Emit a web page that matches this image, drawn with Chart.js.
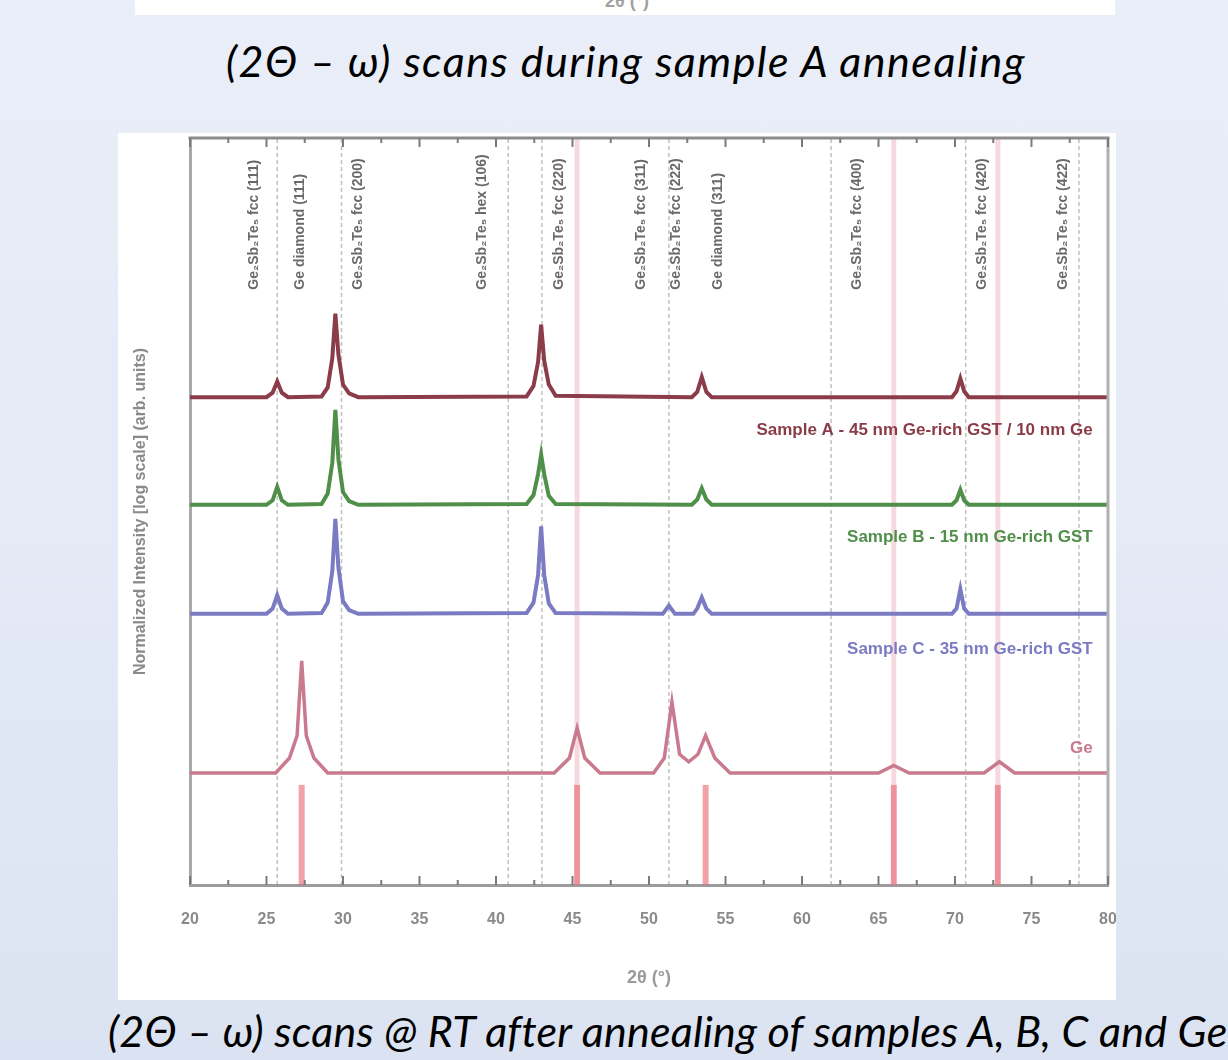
<!DOCTYPE html>
<html>
<head>
<meta charset="utf-8">
<script src="https://cdn.jsdelivr.net/npm/chart.js@4.4.1/dist/chart.umd.min.js"></script>
<style>
  html, body { margin:0; padding:0; }
  body { width:1228px; height:1060px; overflow:hidden; position:relative;
         background: linear-gradient(180deg, #e9eef8 0%, #e4eaf6 50%, #dbe3f2 100%); }
  .topbox { position:absolute; left:135px; top:0; width:980px; height:15px; background:#fff; overflow:hidden; }
  .topbox span { position:absolute; left:470px; top:-9px; font:bold 18px "Liberation Sans", Arial, sans-serif; color:#a0a0a0; }
  .cap { position:absolute; font-family: Lato, "Open Sans", sans-serif; font-style:italic; color:#000; white-space:nowrap; line-height:1; font-size:43px; }
  #cap1 { left:12px; width:1228px; text-align:center; top:39px; letter-spacing:1.5px; }
  #cap2 { left:108px; top:1009px; letter-spacing:0.25px; }
  #wrap { position:absolute; left:118px; top:133px; width:998px; height:867px; background:#fff; }
</style>
</head>
<body>
<div class="topbox"><span>2θ (°)</span></div>
<div class="cap" id="cap1">(2Θ – ω) scans during sample A annealing</div>
<div id="wrap"><canvas id="c"></canvas></div>
<div class="cap" id="cap2">(2Θ – ω) scans @ RT after annealing of samples A, B, C and Ge</div>
<script>
// ---- axis ----
const xMin = 20, xMax = 80, xStep = 5;
const yMin = 0, yMax = 100;

// ---- traces (2θ in degrees, intensity offset in arb. units) ----
const sampleA_x = [20, 25.0, 25.4, 25.7, 26.0, 26.4, 28.6, 29.0, 29.3, 29.5, 29.7, 30.0, 30.4, 31.0, 42.0, 42.45, 42.75, 42.95, 43.15, 43.45, 43.9, 52.8, 53.15, 53.45, 53.75, 54.1, 69.8, 70.1, 70.35, 70.6, 70.9, 80];
const sampleA_y = [65.3, 65.3, 65.9, 67.4, 65.9, 65.3, 65.4, 66.6, 70.5, 76.5, 71.0, 67.0, 65.8, 65.3, 65.4, 66.8, 70.0, 75.0, 70.2, 67.0, 65.5, 65.3, 66.0, 68.0, 66.0, 65.3, 65.3, 66.1, 67.8, 66.1, 65.3, 65.3];

const sampleB_x = [20, 25.0, 25.4, 25.7, 26.0, 26.4, 28.6, 29.0, 29.3, 29.5, 29.7, 30.0, 30.4, 31.0, 42.0, 42.45, 42.75, 42.95, 43.15, 43.45, 43.9, 52.8, 53.15, 53.45, 53.75, 54.1, 69.8, 70.1, 70.35, 70.6, 70.9, 80];
const sampleB_y = [50.9, 50.9, 51.5, 53.3, 51.5, 50.9, 51.0, 52.4, 56.5, 63.6, 57.0, 52.6, 51.4, 50.9, 51.0, 52.2, 55.0, 57.6, 55.0, 52.1, 51.0, 50.9, 51.6, 53.1, 51.6, 50.9, 50.9, 51.5, 52.9, 51.5, 50.9, 50.9];

const sampleC_x = [20, 25.0, 25.4, 25.7, 26.0, 26.4, 28.6, 29.0, 29.3, 29.5, 29.7, 30.0, 30.4, 31.0, 42.0, 42.45, 42.75, 42.95, 43.15, 43.45, 43.9, 50.9, 51.3, 51.7, 52.9, 53.15, 53.45, 53.75, 54.1, 69.8, 70.1, 70.35, 70.6, 70.9, 80];
const sampleC_y = [36.3, 36.3, 37.0, 38.8, 37.0, 36.3, 36.4, 37.8, 42.0, 49.0, 42.5, 38.0, 36.8, 36.3, 36.4, 37.8, 41.5, 48.0, 41.5, 37.7, 36.4, 36.3, 37.4, 36.3, 36.3, 37.0, 38.5, 37.0, 36.3, 36.3, 37.0, 39.6, 37.0, 36.3, 36.3];

const ge_x = [20, 25.6, 26.5, 27.0, 27.3, 27.6, 28.1, 29.0, 43.8, 44.8, 45.3, 45.8, 46.8, 50.3, 51.0, 51.5, 52.0, 52.6, 53.2, 53.7, 54.3, 55.3, 65.0, 66.0, 67.0, 71.9, 72.9, 73.9, 80];
const ge_y = [15.0, 15.0, 17.0, 20.0, 30.0, 20.0, 17.0, 15.0, 15.0, 17.0, 21.0, 17.0, 15.0, 15.0, 17.0, 24.5, 17.5, 16.5, 17.5, 20.0, 17.0, 15.0, 15.0, 16.0, 15.0, 15.0, 16.5, 15.0, 15.0];

// ---- reference positions ----
const geRefPeaks = [27.3, 45.3, 53.7, 66.0, 72.8];
const geStickTop = [13.4, 13.4, 13.4, 13.4, 13.4];
const geFullLines = [45.3, 66.0, 72.8];
const gstLines = [25.7, 29.9, 40.8, 43.0, 51.3, 61.9, 70.7, 78.1];
const refLabelPos = [24.2, 27.2, 31.0, 39.1, 44.1, 49.5, 51.8, 54.5, 63.6, 71.8, 77.1];
const refLabelText = ["Ge₂Sb₂Te₅ fcc (111)", "Ge diamond (111)", "Ge₂Sb₂Te₅ fcc (200)", "Ge₂Sb₂Te₅ hex (106)", "Ge₂Sb₂Te₅ fcc (220)", "Ge₂Sb₂Te₅ fcc (311)", "Ge₂Sb₂Te₅ fcc (222)", "Ge diamond (311)", "Ge₂Sb₂Te₅ fcc (400)", "Ge₂Sb₂Te₅ fcc (420)", "Ge₂Sb₂Te₅ fcc (422)"];
const refLabelBase = 79.7;

// ---- series names ----
const seriesNames = ["Sample A - 45 nm Ge-rich GST / 10 nm Ge", "Sample B - 15 nm Ge-rich GST", "Sample C - 35 nm Ge-rich GST", "Ge"];
const seriesLabelX = [79.0, 79.0, 79.0, 79.0];
const seriesLabelY = [60.9, 46.5, 31.6, 18.3];
const seriesColors = ["#8a3c48", "#4f8f4a", "#7b7bc4", "#c97a8e"];

function pts(xs, ys) { return xs.map((x, i) => ({x: x, y: ys[i]})); }

const datasets = [];
geFullLines.forEach(p => datasets.push({data: pts([p, p], [yMin, yMax]), borderColor: 'rgba(236,170,182,0.45)', borderWidth: 5, order: 5}));
gstLines.forEach(p => datasets.push({data: pts([p, p], [yMin, yMax]), borderColor: 'rgba(130,130,130,0.5)', borderWidth: 1.5, borderDash: [4, 3], order: 4}));
geRefPeaks.forEach((p, i) => datasets.push({data: pts([p, p], [yMin, geStickTop[i]]), borderColor: 'rgba(232,100,112,0.6)', borderWidth: 6, order: 3}));
[[ge_x, ge_y], [sampleC_x, sampleC_y], [sampleB_x, sampleB_y], [sampleA_x, sampleA_y]].forEach((d, i) => {
  const col = seriesColors[3 - i];
  datasets.push({data: pts(d[0], d[1]), borderColor: col, borderWidth: i === 0 ? 3.5 : 4, order: 1});
});
datasets.forEach(d => { d.showLine = true; d.pointRadius = 0; d.fill = false; d.tension = 0; });

const decor = {
  id: 'decor',
  afterDatasetsDraw(chart) {
    const {ctx, chartArea: a, scales: {x, y}} = chart;
    ctx.save();
    ctx.lineWidth = 3;
    ctx.strokeStyle = '#8c8c8c';
    ctx.beginPath(); ctx.moveTo(a.left - 1.5, a.top); ctx.lineTo(a.right + 1.5, a.top); ctx.stroke();
    ctx.strokeStyle = '#b0b0b0';
    ctx.beginPath(); ctx.moveTo(a.right, a.top); ctx.lineTo(a.right, a.bottom); ctx.stroke();
    ctx.strokeStyle = '#7a7a7a'; ctx.lineWidth = 2;
    for (let v = xMin; v <= xMax + 1e-9; v += xStep / 2) {
      const px = x.getPixelForValue(v);
      const len = (Math.abs(v / xStep - Math.round(v / xStep)) < 1e-6) ? 9 : 5;
      ctx.beginPath(); ctx.moveTo(px, a.bottom); ctx.lineTo(px, a.bottom - len); ctx.stroke();
      ctx.beginPath(); ctx.moveTo(px, a.top); ctx.lineTo(px, a.top + len); ctx.stroke();
    }
    ctx.fillStyle = '#6a6a6a';
    ctx.font = 'bold 14px "Liberation Sans", Arial, sans-serif';
    ctx.textAlign = 'left'; ctx.textBaseline = 'middle';
    refLabelPos.forEach((p, i) => {
      ctx.save();
      ctx.translate(x.getPixelForValue(p), y.getPixelForValue(refLabelBase));
      ctx.rotate(-Math.PI / 2);
      ctx.fillText(refLabelText[i], 0, 0);
      ctx.restore();
    });
    ctx.textAlign = 'right';
    seriesNames.forEach((s, i) => {
      ctx.fillStyle = seriesColors[i];
      ctx.font = 'bold 17px "Liberation Sans", Arial, sans-serif';
      ctx.fillText(s, x.getPixelForValue(seriesLabelX[i]), y.getPixelForValue(seriesLabelY[i]));
    });
    ctx.restore();
  }
};

new Chart(document.getElementById('c'), {
  type: 'scatter',
  data: { datasets: datasets },
  options: {
    responsive: true, maintainAspectRatio: false, animation: false,
    layout: { padding: { left: 0, right: 8, top: 5, bottom: 0 } },
    plugins: { legend: { display: false }, tooltip: { enabled: false } },
    scales: {
      x: {
        type: 'linear', min: xMin, max: xMax,
        ticks: { stepSize: xStep, color: '#8a8a8a', font: { size: 16, weight: 'bold', family: '"Liberation Sans", Arial' }, padding: 25 },
        grid: { display: false, drawTicks: false },
        border: { display: true, color: '#9c9c9c', width: 3 },
        title: { display: true, text: '2θ (°)', color: '#9a9a9a', font: { size: 18, weight: 'bold', family: '"Liberation Sans", Arial' }, padding: { top: 0, bottom: 11 } },
        afterFit(s) { s.height = 115; s.paddingLeft = 0; s.paddingRight = 0; }
      },
      y: {
        type: 'linear', min: yMin, max: yMax,
        ticks: { display: false },
        grid: { display: false, drawTicks: false },
        border: { display: true, color: '#a8a8a8', width: 3 },
        title: { display: true, text: 'Normalized Intensity [log scale] (arb. units)', color: '#8a8a8a', font: { size: 16, weight: 'bold', family: '"Liberation Sans", Arial' }, padding: { top: 13, bottom: 0 } },
        afterFit(s) { s.width = 72; }
      }
    }
  },
  plugins: [decor]
});
</script>
</body>
</html>
